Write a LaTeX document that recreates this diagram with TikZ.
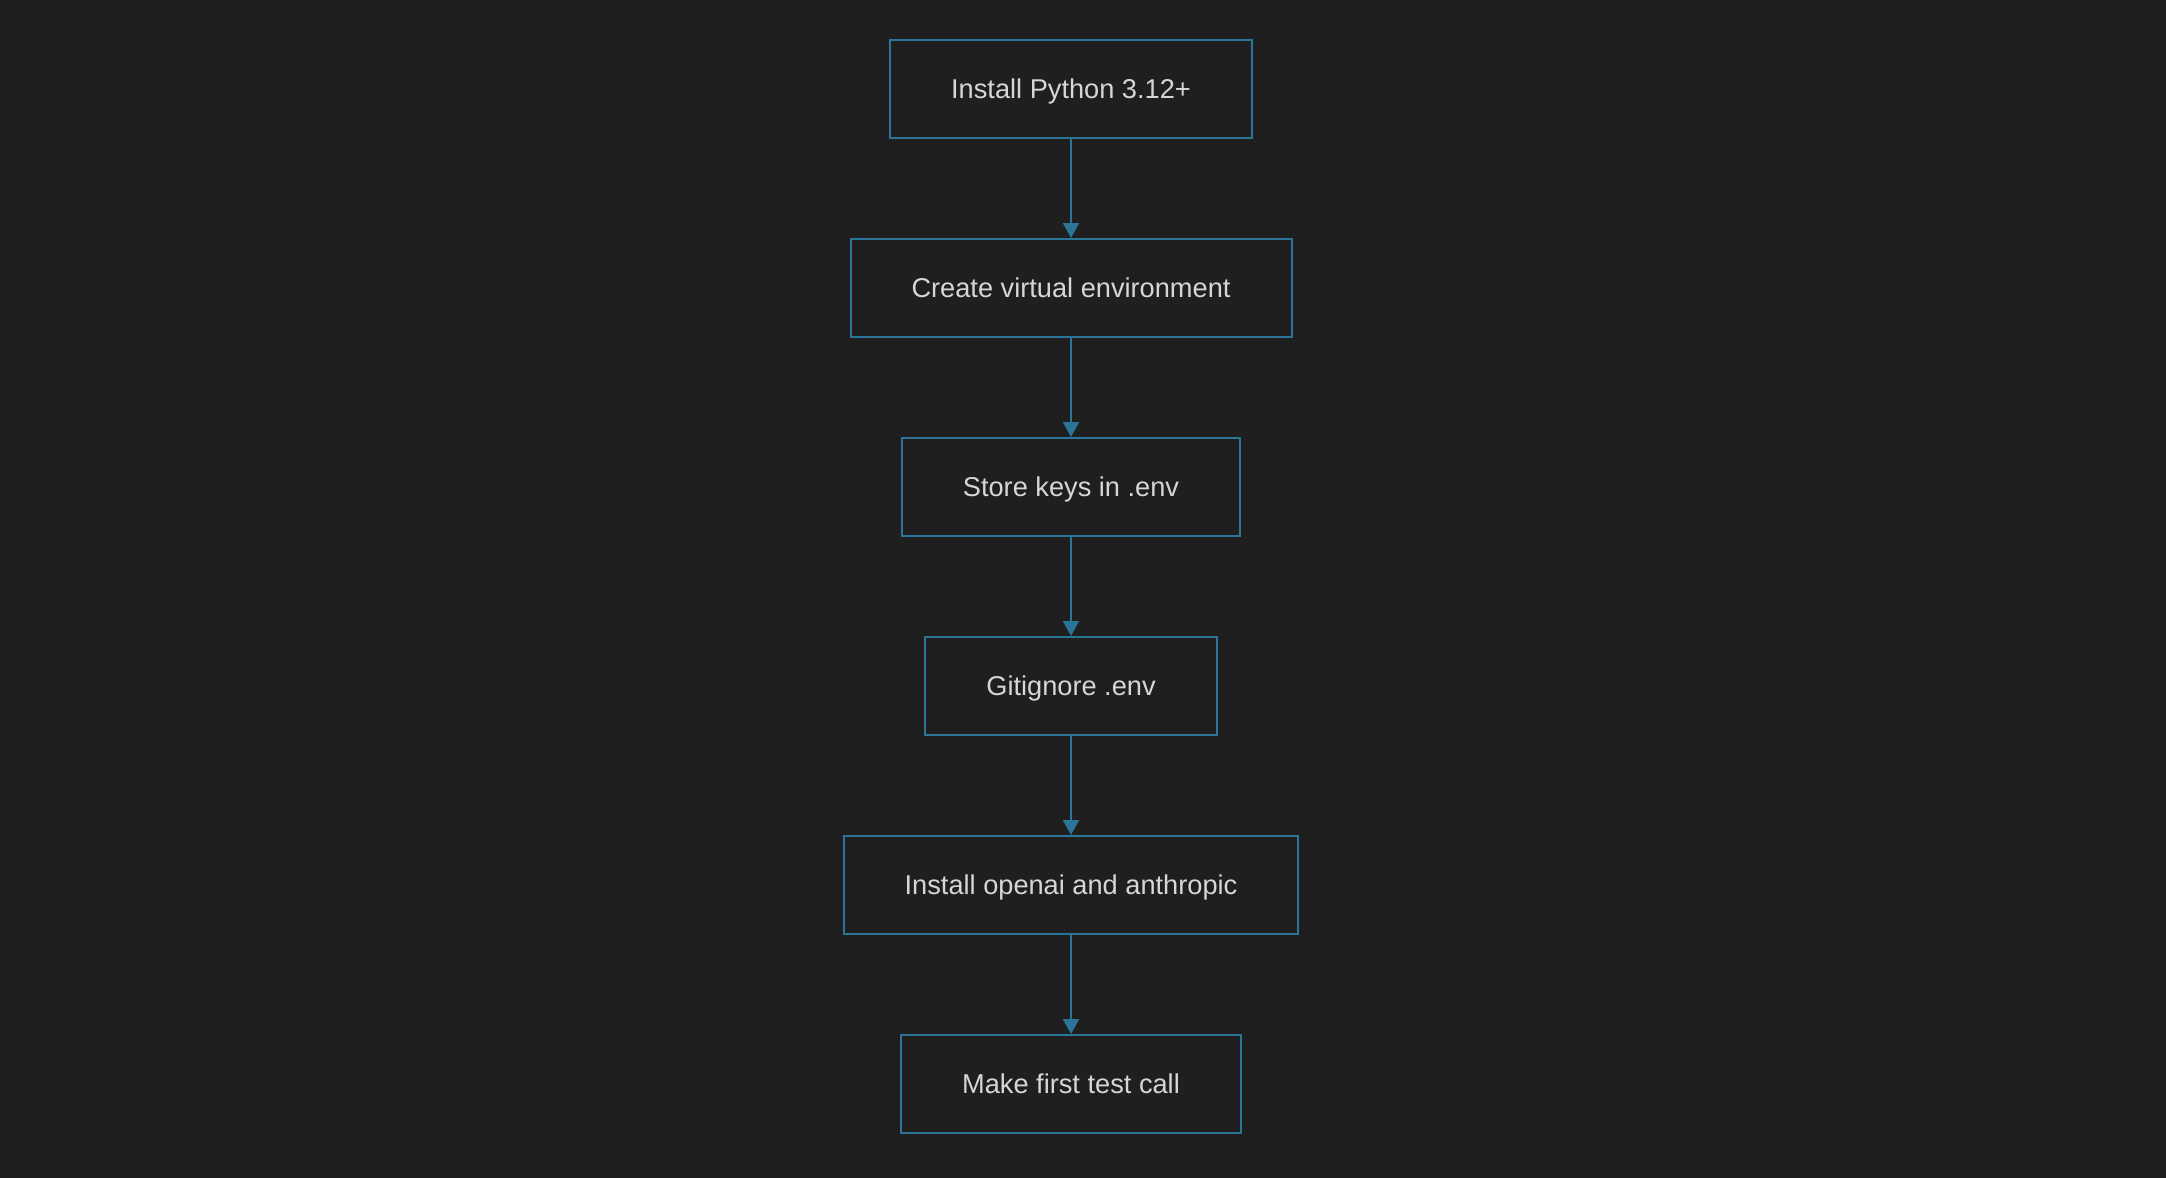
\documentclass[tikz,border=0pt]{standalone}
\usepackage{fontspec}
\setmainfont{Liberation Sans}
\usetikzlibrary{arrows.meta}
\definecolor{bgdark}{HTML}{1F1F1F}
\definecolor{boxblue}{HTML}{2B7599}
\definecolor{labelgrey}{HTML}{D6D6D6}
\tikzset{>={Triangle[length=7.5pt,width=8pt]}}

\begin{document}
\begin{tikzpicture}[x=0.5pt,y=-0.5pt,
    box/.style = {draw=boxblue, line width=1pt, fill=bgdark, text=labelgrey,
        minimum height=49pt, inner xsep=30.5pt, text height=9.6pt, text depth=0pt,
        font=\fontsize{13.6}{16}\selectfont}]
    \fill[bgdark] (0,0) rectangle (2166,1178);
    \node[box] (1) at (1071,89) {Install Python 3.12+};
    \node[box] (2) at (1071,288) {Create virtual environment};
    \node[box] (3) at (1071,487) {Store keys in .env};
    \node[box] (4) at (1071,686) {Gitignore .env};
    \node[box] (5) at (1071,885) {Install openai and anthropic};
    \node[box] (6) at (1071,1084) {Make first test call};
    \draw[->, boxblue, line width=1pt] (1) to (2);
    \draw[->, boxblue, line width=1pt] (2) to (3);
    \draw[->, boxblue, line width=1pt] (3) to (4);
    \draw[->, boxblue, line width=1pt] (4) to (5);
    \draw[->, boxblue, line width=1pt] (5) to (6);
\end{tikzpicture}
\end{document}
